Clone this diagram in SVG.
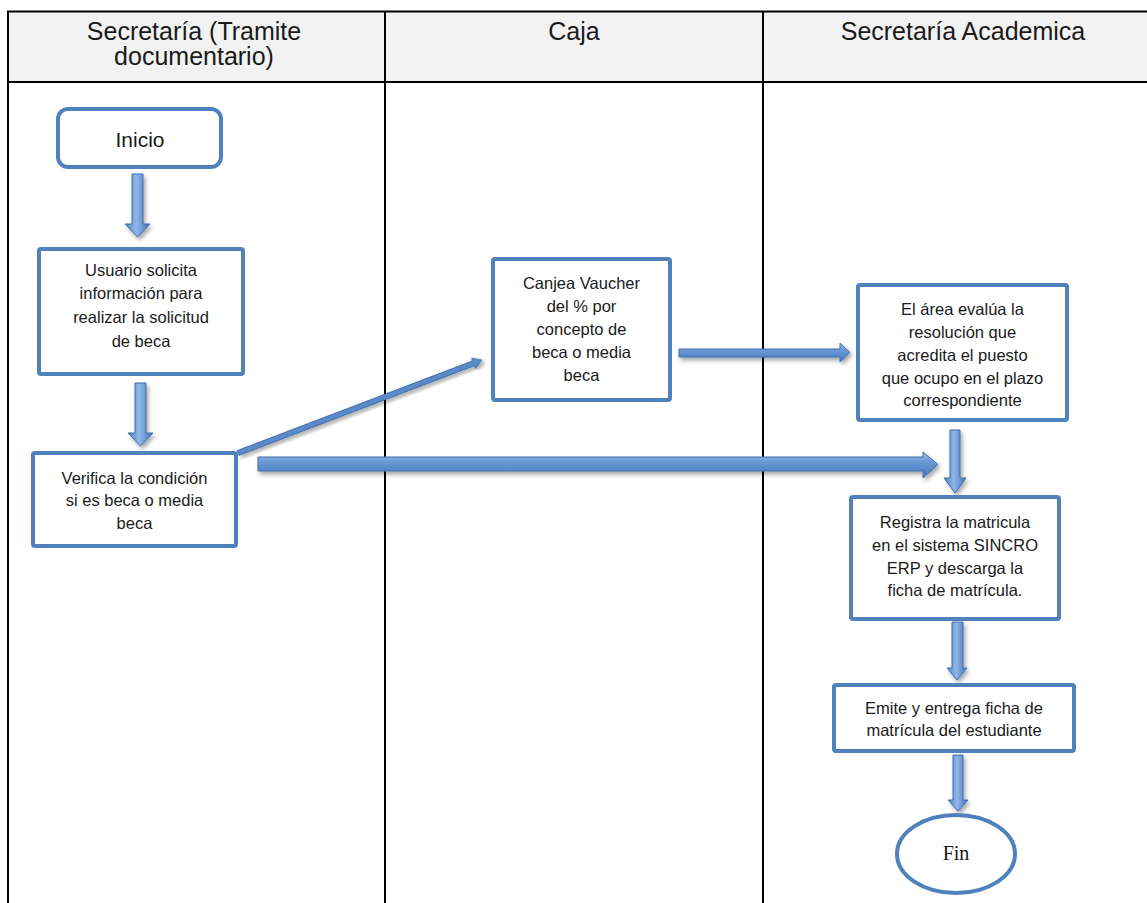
<svg xmlns="http://www.w3.org/2000/svg" width="1147" height="903" viewBox="0 0 1147 903">
<style>
.grid{stroke:#000;stroke-width:2;fill:none}
.hdr{font-family:"Liberation Sans",Arial,sans-serif;font-size:25px;fill:#1a1a1a;text-anchor:middle}
.t{font-family:"Liberation Sans",Arial,sans-serif;font-size:16.5px;fill:#1a1a1a;text-anchor:middle}
.box{fill:#fff;stroke:#4f81bd;stroke-width:4}
.ah{fill:url(#gh);stroke:#3f6fae;stroke-width:1;filter:url(#sh)}
.av{fill:url(#gv);stroke:#3f6fae;stroke-width:1;filter:url(#sh)}
</style>
<defs>
<linearGradient id="gh" x1="0" y1="0" x2="0" y2="1">
<stop offset="0" stop-color="#9fc1ec"/>
<stop offset="0.35" stop-color="#6d9bd8"/>
<stop offset="1" stop-color="#4474b6"/>
</linearGradient>
<linearGradient id="gv" x1="0" y1="0" x2="1" y2="0">
<stop offset="0" stop-color="#4f81bd"/>
<stop offset="0.45" stop-color="#90b7ea"/>
<stop offset="1" stop-color="#3f70b0"/>
</linearGradient>
<filter id="sh" x="-20%" y="-20%" width="140%" height="140%">
<feDropShadow dx="2" dy="3" stdDeviation="2" flood-color="#000" flood-opacity="0.35"/>
</filter>
</defs>

<g id="table">
<rect x="8" y="12" width="1139" height="70" fill="#f2f2f2"/>
<line class="grid" x1="7" y1="11.5" x2="1147" y2="11.5"/>
<line class="grid" x1="7" y1="82" x2="1147" y2="82"/>
<line class="grid" x1="8" y1="11" x2="8" y2="903"/>
<line class="grid" x1="385" y1="11" x2="385" y2="903"/>
<line class="grid" x1="763" y1="11" x2="763" y2="903"/>
<text class="hdr" x="194" y="39.5">Secretaría (Tramite</text>
<text class="hdr" x="194" y="65">documentario)</text>
<text class="hdr" x="574" y="39.5">Caja</text>
<text class="hdr" x="963" y="39.5">Secretaría Academica</text>
</g>

<g id="connectors">
<path class="av" d="M132,174 H143 V224 H150 L137.5,237 L125,224 H132 Z"/>
<path class="av" d="M135,383 H146 V433 H153 L140.5,446 L128,433 H135 Z"/>
<g transform="translate(238,453) rotate(-20.87)">
<path d="M0,-2.5 H252 V-5.5 L261,0 L252,5.5 V2.5 H0 Z" fill="#5a8bc8" stroke="#3f6fae" stroke-width="1" filter="url(#sh)"/>
</g>
<path class="ah" d="M258,457 H923 V452 L938,464.5 L923,478 V471 H258 Z"/>
<path class="ah" d="M679,349 H840 V343 L850,352.5 L840,362 V357 H679 Z"/>
<path class="av" d="M950,430 H960 V478 H966 L955,493 L944,478 H950 Z"/>
<path class="av" d="M952,622 H963 V668 H967 L957,680 L947,668 H952 Z"/>
<path class="av" d="M953,755 H963 V800 H968 L958,811 L948,800 H953 Z"/>
</g>

<g id="inicio">
<rect class="box" x="58" y="109" width="163" height="58" rx="10"/>
<text x="140" y="147" font-family="Liberation Sans, Arial, sans-serif" font-size="21" fill="#1a1a1a" text-anchor="middle">Inicio</text>
</g>

<g id="usuario">
<rect class="box" x="39" y="249" width="204" height="125" rx="2"/>
<text class="t" x="141" y="275.5">Usuario solicita</text>
<text class="t" x="141" y="299">información para</text>
<text class="t" x="141" y="323">realizar la solicitud</text>
<text class="t" x="141" y="347">de beca</text>
</g>

<g id="verifica">
<rect class="box" x="33" y="453" width="203" height="93" rx="2"/>
<text class="t" x="134.5" y="483.5">Verifica la condición</text>
<text class="t" x="134.5" y="506">si es beca o media</text>
<text class="t" x="134.5" y="529">beca</text>
</g>

<g id="canjea">
<rect class="box" x="493" y="259" width="177" height="141" rx="2"/>
<text class="t" x="581.5" y="289">Canjea Vaucher</text>
<text class="t" x="581.5" y="311.5">del % por</text>
<text class="t" x="581.5" y="334.5">concepto de</text>
<text class="t" x="581.5" y="357.5">beca o media</text>
<text class="t" x="581.5" y="381">beca</text>
</g>

<g id="evalua">
<rect class="box" x="858" y="285" width="209" height="135" rx="2"/>
<text class="t" x="962.5" y="315">El área evalúa la</text>
<text class="t" x="962.5" y="338">resolución que</text>
<text class="t" x="962.5" y="360.5">acredita el puesto</text>
<text class="t" x="962.5" y="383.5">que ocupo en el plazo</text>
<text class="t" x="962.5" y="406">correspondiente</text>
</g>

<g id="registra">
<rect class="box" x="851" y="497" width="208" height="122" rx="2"/>
<text class="t" x="955" y="527.5">Registra la matricula</text>
<text class="t" x="955" y="550.5">en el sistema SINCRO</text>
<text class="t" x="955" y="573.5">ERP y descarga la</text>
<text class="t" x="955" y="596">ficha de matrícula.</text>
</g>

<g id="emite">
<rect class="box" x="834" y="685" width="240" height="66" rx="2"/>
<text class="t" x="954" y="714">Emite y entrega ficha de</text>
<text class="t" x="954" y="736">matrícula del estudiante</text>
</g>

<g id="fin">
<ellipse class="box" cx="956" cy="854" rx="59" ry="39"/>
<text x="956" y="859.5" font-family="Liberation Serif, Times New Roman, serif" font-size="20" fill="#1a1a1a" text-anchor="middle">Fin</text>
</g>
</svg>
